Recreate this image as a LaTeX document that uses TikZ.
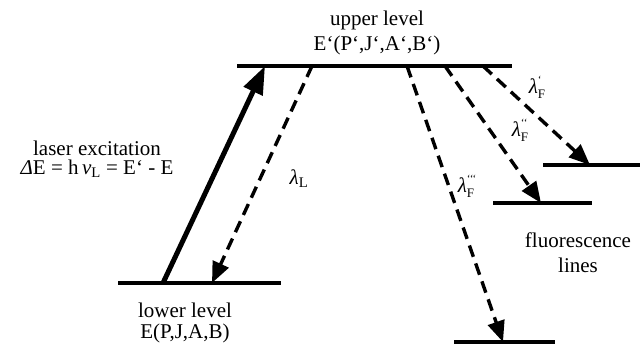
\documentclass[tikz,border=0pt]{standalone}
\usepackage{fontspec}
\setmainfont{Liberation Serif}
\newfontfamily\tnr{Liberation Serif}
\usetikzlibrary{arrows.meta}
\newcommand{\lamF}[1]{\textit{λ}\rlap{\raisebox{10pt}{\fontsize{11}{11}\selectfont #1}}\raisebox{-5pt}{\fontsize{13}{13}\selectfont F}}
\begin{document}
\begin{tikzpicture}[x=1pt,y=-1pt,
  level/.style={line width=4pt},
  excite/.style={line width=5pt,-{Triangle[length=28pt,width=20pt]}},
  fluor/.style={line width=3.4pt,dash pattern=on 12pt off 7pt,-{Triangle[length=21pt,width=17pt]}},
  lbl/.style={font=\tnr\fontsize{21}{23}\selectfont,inner sep=0pt,align=center}]
\useasboundingbox (0,0) rectangle (643,349);
% levels
\coordinate (u1) at (237,66); \coordinate (u2) at (512,66);
\coordinate (l1) at (118,283); \coordinate (l2) at (281,283);
\coordinate (a1) at (543,165); \coordinate (a2) at (640,165);
\coordinate (b1) at (493,203); \coordinate (b2) at (592,203);
\coordinate (c1) at (454,342); \coordinate (c2) at (555,342);
\draw[level] (u1) -- (u2);
\draw[level] (l1) -- (l2);
\draw[level] (a1) -- (a2);
\draw[level] (b1) -- (b2);
\draw[level] (c1) -- (c2);
% arrow endpoints
\coordinate (exS) at (163,283); \coordinate (exE) at (265,66);
\coordinate (lLS) at (312,66);  \coordinate (lLE) at (212,283);
\coordinate (f3S) at (407,66);  \coordinate (f3E) at (503,342);
\coordinate (f2S) at (445,66);  \coordinate (f2E) at (541,203);
\coordinate (f1S) at (483,66);  \coordinate (f1E) at (590,165);
\draw[excite] (exS) -- (exE);
\draw[fluor] (lLS) -- (lLE);
\draw[fluor] (f3S) -- (f3E);
\draw[fluor] (f2S) -- (f2E);
\draw[fluor] (f1S) -- (f1E);
% labels
\node[lbl] (up) at (377,20) {upper level};
\node[lbl] (upE) at (377,45) {E‘(P‘,J‘,A‘,B‘)};
\node[lbl] (las) at (97,148) {laser excitation};
\node[lbl] (dE) at (97,169) {\textit{Δ}E = h\,\textit{ν}\textsubscript{L} = E‘ - E};
\node[lbl] (lamL) at (299,179) {\textit{λ}\textsubscript{L}};
\node[lbl] (low) at (185,310) {lower level};
\node[lbl] (lowE) at (185,333) {E(P,J,A,B)};
\node[lbl] (lF1) at (537,87) {\lamF{‘}};
\node[lbl] (lF2) at (520,130) {\lamF{‘‘}};
\node[lbl] (lF3) at (466,186) {\lamF{‘‘‘}};
\node[lbl] (fl) at (578,240) {fluorescence};
\node[lbl] (fl2) at (578,265) {lines};
\end{tikzpicture}
\end{document}
